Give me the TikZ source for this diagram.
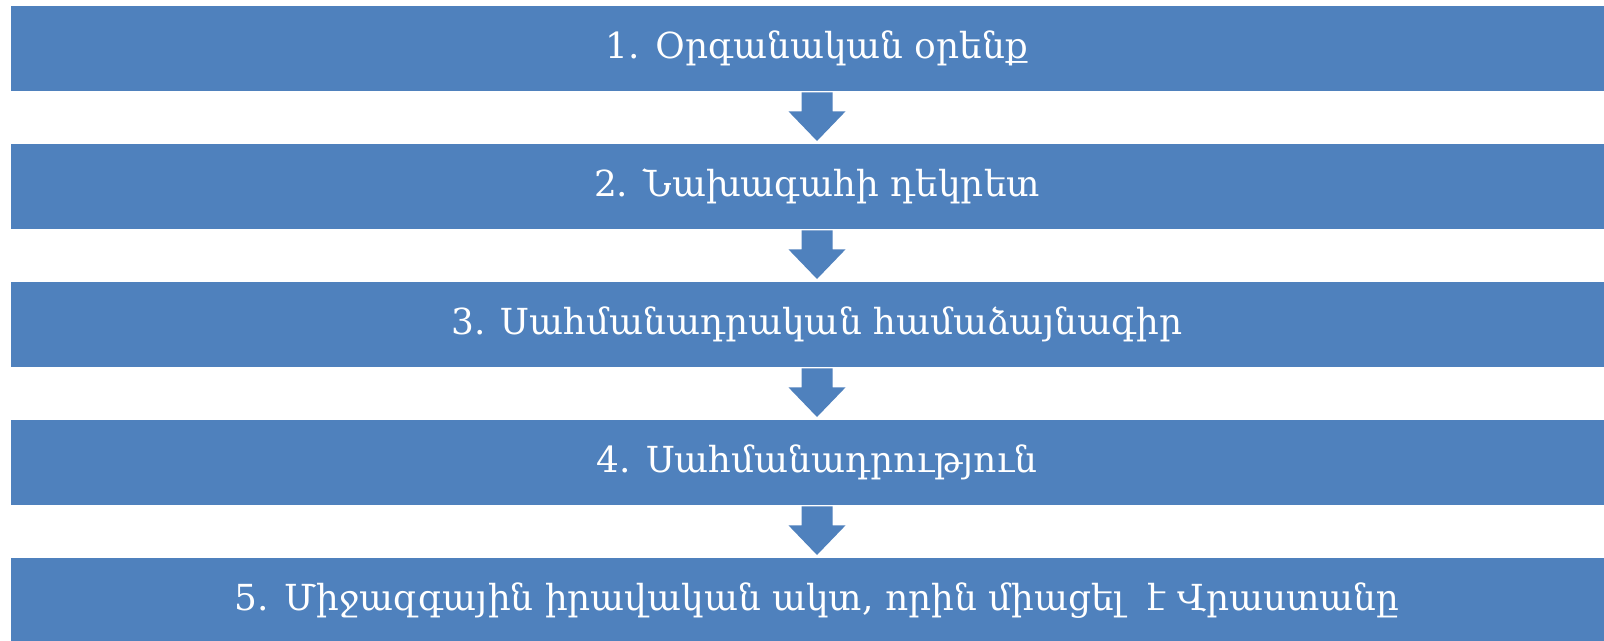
\documentclass[tikz,border=0pt]{standalone}
\usepackage{fontspec}
\setmainfont{DejaVu Serif}
\usetikzlibrary{calc}
\definecolor{boxblue}{HTML}{4F81BD}
\tikzset{
  stagebox/.style={fill=boxblue, draw=none, minimum width=1612bp, minimum height=85bp,
    inner sep=0pt, text=white, font=\fontsize{36}{40}\selectfont, anchor=north},
  blockarrow/.style={fill=boxblue, draw=none}
}
\newcommand\blockarr[2]{%
  \fill[blockarrow] ($(#1.south)+(-15.5,1)$) -- ($(#1.south)+(15.5,1)$) -- ($(#1.south)+(15.5,20)$)
    -- ($(#1.south)+(28.5,20)$) -- ($(#2.north)+(0,-3)$) -- ($(#1.south)+(-28.5,20)$)
    -- ($(#1.south)+(-15.5,20)$) -- cycle;}
\begin{document}
\begin{tikzpicture}[x=1bp,y=-1bp]
\clip (0,0) rectangle (1604,641);
\fill[white] (0,0) rectangle (1604,641);
\node[stagebox] (b1) at (817,6) {1. Օրգանական օրենք};
\node[stagebox] (b2) at (817,144) {2. Նախագահի դեկրետ};
\node[stagebox] (b3) at (817,282) {3. Սահմանադրական համաձայնագիր};
\node[stagebox] (b4) at (817,420) {4. Սահմանադրություն};
\node[stagebox] (b5) at (817,558) {5. Միջազգային իրավական ակտ, որին միացել\ \ է Վրաստանը};
\blockarr{b1}{b2}
\blockarr{b2}{b3}
\blockarr{b3}{b4}
\blockarr{b4}{b5}
\end{tikzpicture}
\end{document}
